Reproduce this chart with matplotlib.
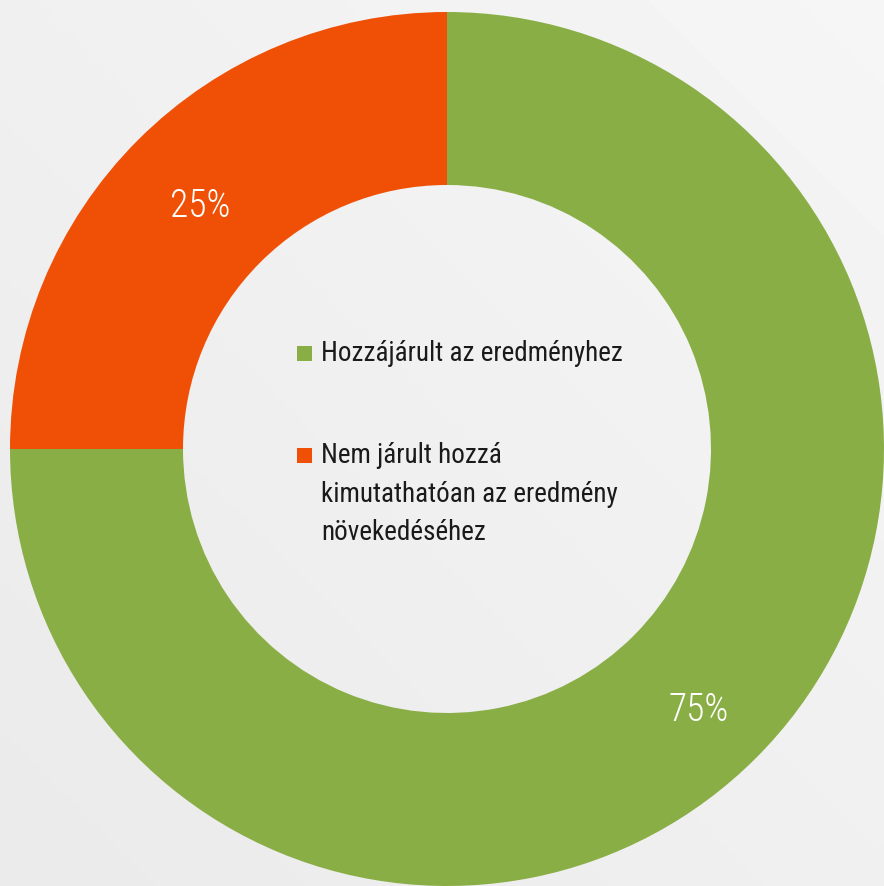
import numpy as np
import matplotlib.pyplot as plt
from matplotlib.patches import Rectangle

labels = ['Hozzájárult az eredményhez',
          'Nem járult hozzá\nkimutathatóan az eredmény\nnövekedéséhez']
values = [75, 25]
colors = ['#8aae46', '#f05006']
pct_text = ['75%', '25%']

plt.rcParams['font.family'] = ['Roboto Condensed', 'Liberation Sans Narrow', 'DejaVu Sans']

W, H = 884, 886
fig = plt.figure(figsize=(W / 100, H / 100), dpi=100)
ax = fig.add_axes([0, 0, 1, 1])

# soft grey background gradient
gx, gy = np.meshgrid(np.linspace(0, 1, 200), np.linspace(0, 1, 200))
grad = 0.918 + 0.045 * (gx + gy) / 2
ax.imshow(grad, extent=[0, W, H, 0], cmap='gray', vmin=0, vmax=1, aspect='auto', zorder=0)

cx, cy, r_out, r_in = 447, H - 449, 437, 264
wedges, _ = ax.pie(values, colors=colors, startangle=90, counterclock=False,
                   center=(cx, cy), radius=r_out,
                   wedgeprops=dict(width=r_out - r_in, linewidth=0), frame=True)
ax.set_xlim(0, W)
ax.set_ylim(0, H)
ax.set_aspect('auto')
ax.axis('off')

# percentage labels
ax.text(699, H - 710, pct_text[0], color='white', fontsize=27, fontweight='light',
        ha='center', va='center')
ax.text(200, H - 206, pct_text[1], color='white', fontsize=27, fontweight='light',
        ha='center', va='center')

# legend in the hole
leg_y = [353, 455]
for lab, col, y in zip(labels, colors, leg_y):
    ax.add_patch(Rectangle((297, H - y - 8), 15, 15, color=col, linewidth=0))
    ax.text(321, H - y + 13, lab, fontsize=19.5, color='#1a1a1a', ha='left', va='top',
            linespacing=1.55)

fig.savefig('out.png', dpi=100)
